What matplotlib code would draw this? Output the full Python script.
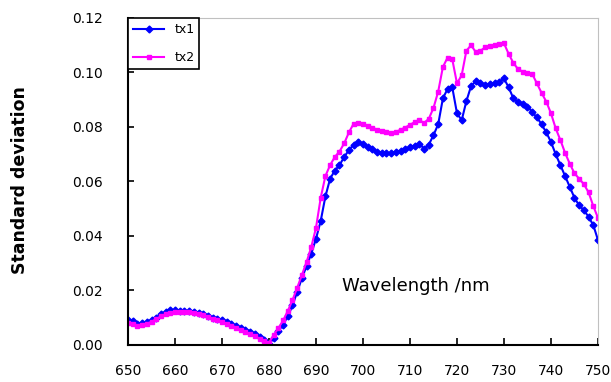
import numpy as np
import matplotlib
matplotlib.use('Agg')
import matplotlib.pyplot as plt

plt.rcParams['font.family'] = 'DejaVu Sans'

wavelength = np.arange(650, 751)

tx1 = [0.0092, 0.0088, 0.0078, 0.0080, 0.0085, 0.0090, 0.0100, 0.0112, 0.0120, 0.0128,
       0.0127, 0.0126, 0.0125, 0.0124, 0.0121, 0.0117, 0.0112, 0.0106, 0.0100, 0.0095,
       0.0090, 0.0084, 0.0077, 0.0070, 0.0063, 0.0056, 0.0049, 0.0040, 0.0030, 0.0018,
       0.0002, 0.0025, 0.0050, 0.0075, 0.0105, 0.0145, 0.0195, 0.0245, 0.0290, 0.0335,
       0.0390, 0.0455, 0.0545, 0.0610, 0.0640, 0.0660, 0.0690, 0.0715, 0.0735, 0.0745,
       0.0738, 0.0728, 0.0718, 0.0710, 0.0705, 0.0703, 0.0704, 0.0708, 0.0712, 0.0718,
       0.0725, 0.0732, 0.0738, 0.0720, 0.0735, 0.0770, 0.0810, 0.0905, 0.0940, 0.0945,
       0.0850, 0.0825, 0.0895, 0.0950, 0.0968, 0.0960, 0.0955, 0.0958, 0.0960, 0.0965,
       0.0978, 0.0945, 0.0905, 0.0890, 0.0884, 0.0875, 0.0855, 0.0835, 0.0810, 0.0780,
       0.0745, 0.0700, 0.0660, 0.0620, 0.0580, 0.0540, 0.0512, 0.0495, 0.0470, 0.0440,
       0.0385]

tx2 = [0.0082, 0.0078, 0.0070, 0.0072, 0.0078, 0.0085, 0.0095, 0.0105, 0.0113, 0.0118,
       0.0120, 0.0121, 0.0121, 0.0120, 0.0118, 0.0114, 0.0109, 0.0103, 0.0097, 0.0091,
       0.0085, 0.0078, 0.0071, 0.0064, 0.0056, 0.0048, 0.0040, 0.0032, 0.0023, 0.0014,
       0.0008, 0.0037, 0.0062, 0.0090, 0.0125, 0.0165, 0.0210, 0.0257, 0.0305, 0.0360,
       0.0430, 0.0540, 0.0620, 0.0660, 0.0690, 0.0710, 0.0740, 0.0780, 0.0812, 0.0815,
       0.0812, 0.0805, 0.0798, 0.0790, 0.0784, 0.0780, 0.0779, 0.0782, 0.0790, 0.0798,
       0.0808, 0.0818, 0.0825, 0.0815, 0.0830, 0.0870, 0.0930, 0.1020, 0.1055, 0.1048,
       0.0960, 0.0990, 0.1080, 0.1100, 0.1075, 0.1080, 0.1092, 0.1098, 0.1100, 0.1105,
       0.1107, 0.1068, 0.1035, 0.1012, 0.1003, 0.0999, 0.0995, 0.0960, 0.0925, 0.0893,
       0.0850, 0.0795, 0.0752, 0.0705, 0.0665, 0.0630, 0.0610, 0.0590, 0.0560, 0.0510,
       0.0466]

fig = plt.figure(figsize=(6.11, 3.82), dpi=100)
ax = fig.add_axes([0.2095, 0.0969, 0.7692, 0.856])

ax.plot(wavelength, tx1, color='#0000ff', marker='D', markersize=3.5, lw=1.5, label='tx1')
ax.plot(wavelength, tx2, color='#ff00ff', marker='s', markersize=3.5, lw=1.5, label='tx2')

ax.set_xlim(650, 750)
ax.set_ylim(0, 0.12)
ax.set_xticks(np.arange(650, 751, 10))
ax.set_yticks(np.arange(0, 0.121, 0.02))
ax.set_yticklabels(['%.2f' % v for v in np.arange(0, 0.121, 0.02)])

ax.tick_params(axis='y', direction='in', length=4, width=1.2, pad=18, labelsize=10)
ax.tick_params(axis='x', direction='in', length=5, width=1.2, pad=14, labelsize=10)

ax.spines['left'].set_linewidth(1.5)
ax.spines['bottom'].set_linewidth(1.5)
ax.spines['top'].set_color('#c0c0c0')
ax.spines['right'].set_color('#c0c0c0')

ax.text(0.613, 0.18, 'Wavelength /nm', transform=ax.transAxes, ha='center', va='center',
        fontsize=13)
fig.text(0.033, 0.529, 'Standard deviation', rotation=90, ha='center', va='center',
         fontsize=12.5, fontweight='heavy')

leg = ax.legend(loc='upper left', borderaxespad=0, fancybox=False, edgecolor='black',
                fontsize=9, handlelength=2.5, labelspacing=1.2, framealpha=1)
leg.get_frame().set_linewidth(1.2)

fig.savefig('out.png', dpi=100)
